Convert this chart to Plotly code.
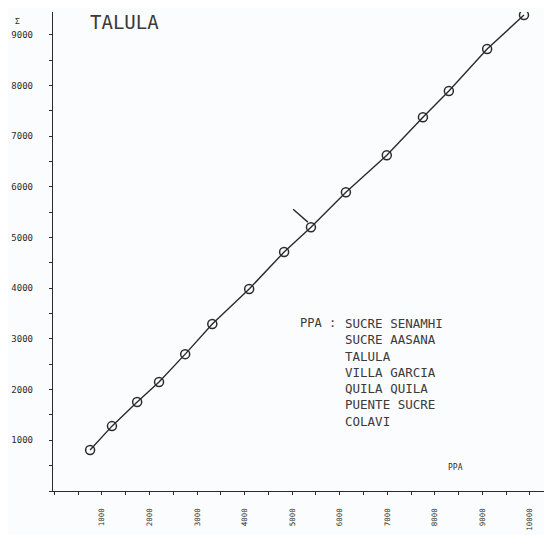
import plotly.graph_objects as go

# cumulative PPA (x) vs cumulative TALULA (y)
ppa_cum = [750, 1210, 1740, 2200, 2750, 3320, 4095, 4830, 5395, 6130,
           6990, 7750, 8295, 9100, 9875]
talula_cum = [810, 1280, 1755, 2150, 2700, 3295, 3985, 4715, 5205, 5895,
              6625, 7375, 7890, 8720, 9390]

# hand drawn break mark near the slope change
break_x = [5020, 5330]
break_y = [5560, 5305]

tick_vals = [1000, 2000, 3000, 4000, 5000, 6000, 7000, 8000, 9000, 10000]
x_tick_text = ["1000", "2000", "3000", "4000", "5000", "6000", "7000", "8000", "9000", "10000"]
y_tick_vals = tick_vals[:9]
y_tick_text = ["1000", "2000", "3000", "4000", "5000", "6000", "7000", "8000", "9000"]

stations = ["SUCRE SENAMHI", "SUCRE AASANA", "TALULA", "VILLA GARCIA",
            "QUILA QUILA", "PUENTE SUCRE", "COLAVI"]

ink = "#2b2b2b"
mono = "DejaVu Sans Mono"

fig = go.Figure()
fig.add_trace(go.Scatter(
    x=ppa_cum, y=talula_cum, mode="lines+markers",
    line=dict(color=ink, width=1.4),
    marker=dict(symbol="circle-open", size=9, color=ink, line=dict(width=1.5)),
    showlegend=False))
fig.add_trace(go.Scatter(
    x=break_x, y=break_y, mode="lines",
    line=dict(color=ink, width=1.4), showlegend=False))

fig.add_annotation(x=700, y=9250, xref="x", yref="y", text="TALULA",
                   showarrow=False, xanchor="left", yanchor="middle",
                   font=dict(family=mono, size=19, color="#3a3a3a"))
fig.add_annotation(x=-0.08, y=0.98, xref="paper", yref="paper", text="Σ",
                   showarrow=False, yanchor="middle",
                   font=dict(family=mono, size=8, color=ink))
fig.add_annotation(x=5120, y=3490, xref="x", yref="y", text="PPA :",
                   showarrow=False, xanchor="left", yanchor="top",
                   font=dict(family=mono, size=12, color="#3a3a3a"))
fig.add_annotation(x=6060, y=3490, xref="x", yref="y", text="<br>".join(stations),
                   showarrow=False, xanchor="left", yanchor="top", align="left",
                   font=dict(family=mono, size=12.5, color="#3a3a3a"))
fig.add_annotation(x=8430, y=470, xref="x", yref="y", text="PPA",
                   showarrow=False, font=dict(family=mono, size=8, color=ink))

fig.update_xaxes(range=[-30, 10380], tickvals=tick_vals, ticktext=x_tick_text,
                 tickangle=-90, showgrid=False, zeroline=False, automargin=False,
                 showline=True, linecolor=ink, linewidth=1.3,
                 ticks="outside", ticklen=3, tickcolor=ink, ticklabelstandoff=10,
                 minor=dict(dtick=500, ticks="outside", ticklen=3, tickcolor=ink),
                 tickfont=dict(family=mono, size=7.5, color=ink))
fig.update_yaxes(range=[0, 9450], tickvals=y_tick_vals, ticktext=y_tick_text,
                 showgrid=False, zeroline=False, automargin=False,
                 showline=True, linecolor=ink, linewidth=1.3,
                 ticks="outside", ticklen=3, tickcolor=ink, ticklabelstandoff=14,
                 minor=dict(dtick=500, ticks="outside", ticklen=3, tickcolor=ink),
                 tickfont=dict(family=mono, size=9, color=ink))

# page body adds an 8px offset, so the plot area is shifted up/left to match
fig.update_layout(width=552, height=535,
                  margin=dict(l=45, r=12, t=4, b=52),
                  paper_bgcolor="#fbfcfd", plot_bgcolor="#fbfcfd")

fig.write_html("out.html")
